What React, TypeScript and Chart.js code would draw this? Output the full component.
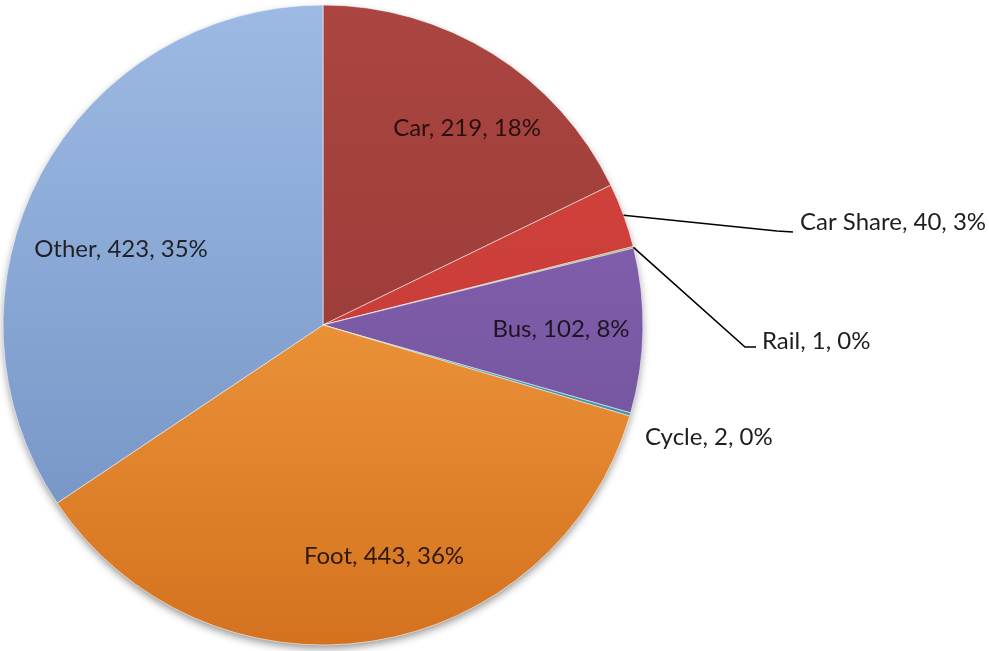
import React, { useEffect, useRef } from "react";
import { Chart, registerables } from "chart.js";

Chart.register(...registerables);

const categories = ["Car", "Car Share", "Rail", "Bus", "Cycle", "Foot", "Other"];
const values = [219, 40, 1, 102, 2, 443, 423];
const percentLabels = ["18%", "3%", "0%", "8%", "0%", "36%", "35%"];

const topColors = ["#ab4541", "#d8453f", "#98b955", "#8a66b6", "#4aa3bd", "#ffb050", "#9cbae3"];
const bottomColors = ["#903633", "#bb3531", "#7e9b40", "#6d4e96", "#3a8aa2", "#d4721f", "#6e8ec0"];

// label anchors (text position) and optional leader elbows
const labelLayout = [
  { x: 467, y: 128, align: "center" },
  { x: 800, y: 222, align: "left", elbow: [777, 231], end: [793, 232] },
  { x: 762, y: 341, align: "left", elbow: [745, 347], end: [756, 347] },
  { x: 561, y: 329, align: "center" },
  { x: 645, y: 437, align: "left" },
  { x: 384, y: 556, align: "center" },
  { x: 121, y: 249, align: "center" },
];

const FONT = "24px Lato";

const shadowPlugin = {
  id: "pieShadow",
  beforeDatasetsDraw(chart: any) {
    const meta = chart.getDatasetMeta(0);
    const arc = meta.data[0];
    if (!arc) return;
    const { x, y, outerRadius } = arc.getProps(["x", "y", "outerRadius"], true);
    const ctx = chart.ctx;
    ctx.save();
    ctx.beginPath();
    ctx.arc(x, y, outerRadius - 1, 0, Math.PI * 2);
    ctx.shadowColor = "rgba(0,0,0,0.45)";
    ctx.shadowBlur = 9;
    ctx.shadowOffsetY = 4;
    ctx.shadowOffsetX = 0;
    ctx.fillStyle = "#777";
    ctx.fill();
    ctx.restore();
  },
};

const labelPlugin = {
  id: "pieLabels",
  afterDatasetsDraw(chart: any) {
    const ctx = chart.ctx;
    const meta = chart.getDatasetMeta(0);
    ctx.save();
    ctx.font = FONT;
    ctx.textBaseline = "middle";
    meta.data.forEach((arc: any, i: number) => {
      const lay: any = labelLayout[i];
      const text = `${categories[i]}, ${values[i]}, ${percentLabels[i]}`;
      if (lay.elbow) {
        const { x, y, startAngle, endAngle, outerRadius } = arc.getProps(
          ["x", "y", "startAngle", "endAngle", "outerRadius"],
          true
        );
        const mid = (startAngle + endAngle) / 2;
        const sx = x + Math.cos(mid) * outerRadius;
        const sy = y + Math.sin(mid) * outerRadius;
        ctx.beginPath();
        ctx.moveTo(sx, sy);
        ctx.lineTo(lay.elbow[0], lay.elbow[1]);
        ctx.lineTo(lay.end[0], lay.end[1]);
        ctx.strokeStyle = "#000";
        ctx.lineWidth = 1.6;
        ctx.stroke();
      }
      ctx.fillStyle = lay.align === "center" ? "rgba(15,8,8,0.85)" : "#1e1e1e";
      ctx.textAlign = lay.align;
      ctx.fillText(text, lay.x, lay.y);
    });
    ctx.restore();
  },
};

export default function App() {
  const ref = useRef<HTMLCanvasElement>(null);
  useEffect(() => {
    if (!ref.current) return;
    const chart = new Chart(ref.current, {
      type: "pie",
      data: {
        labels: categories,
        datasets: [
          {
            data: values,
            backgroundColor: (c: any) => {
              const i = c.dataIndex;
              const area = c.chart.chartArea;
              if (!area) return topColors[i];
              const g = c.chart.ctx.createLinearGradient(0, area.top, 0, area.bottom);
              g.addColorStop(0, topColors[i]);
              g.addColorStop(1, bottomColors[i]);
              return g;
            },
            borderColor: "rgba(255,255,255,0.55)",
            borderWidth: 1,
          },
        ],
      },
      options: {
        responsive: false,
        animation: false,
        radius: 320,
        layout: { padding: { left: 3, top: 5, right: 346, bottom: 6 } },
        plugins: {
          legend: { display: false },
          tooltip: { enabled: false },
        },
      } as any,
      plugins: [shadowPlugin, labelPlugin],
    });
    return () => chart.destroy();
  }, []);
  return (
    <div style={{ position: "absolute", left: 0, top: 0, width: 989, height: 651, background: "#fff" }}>
      <canvas ref={ref} width={989} height={651} style={{ width: 989, height: 651 }} />
    </div>
  );
}
